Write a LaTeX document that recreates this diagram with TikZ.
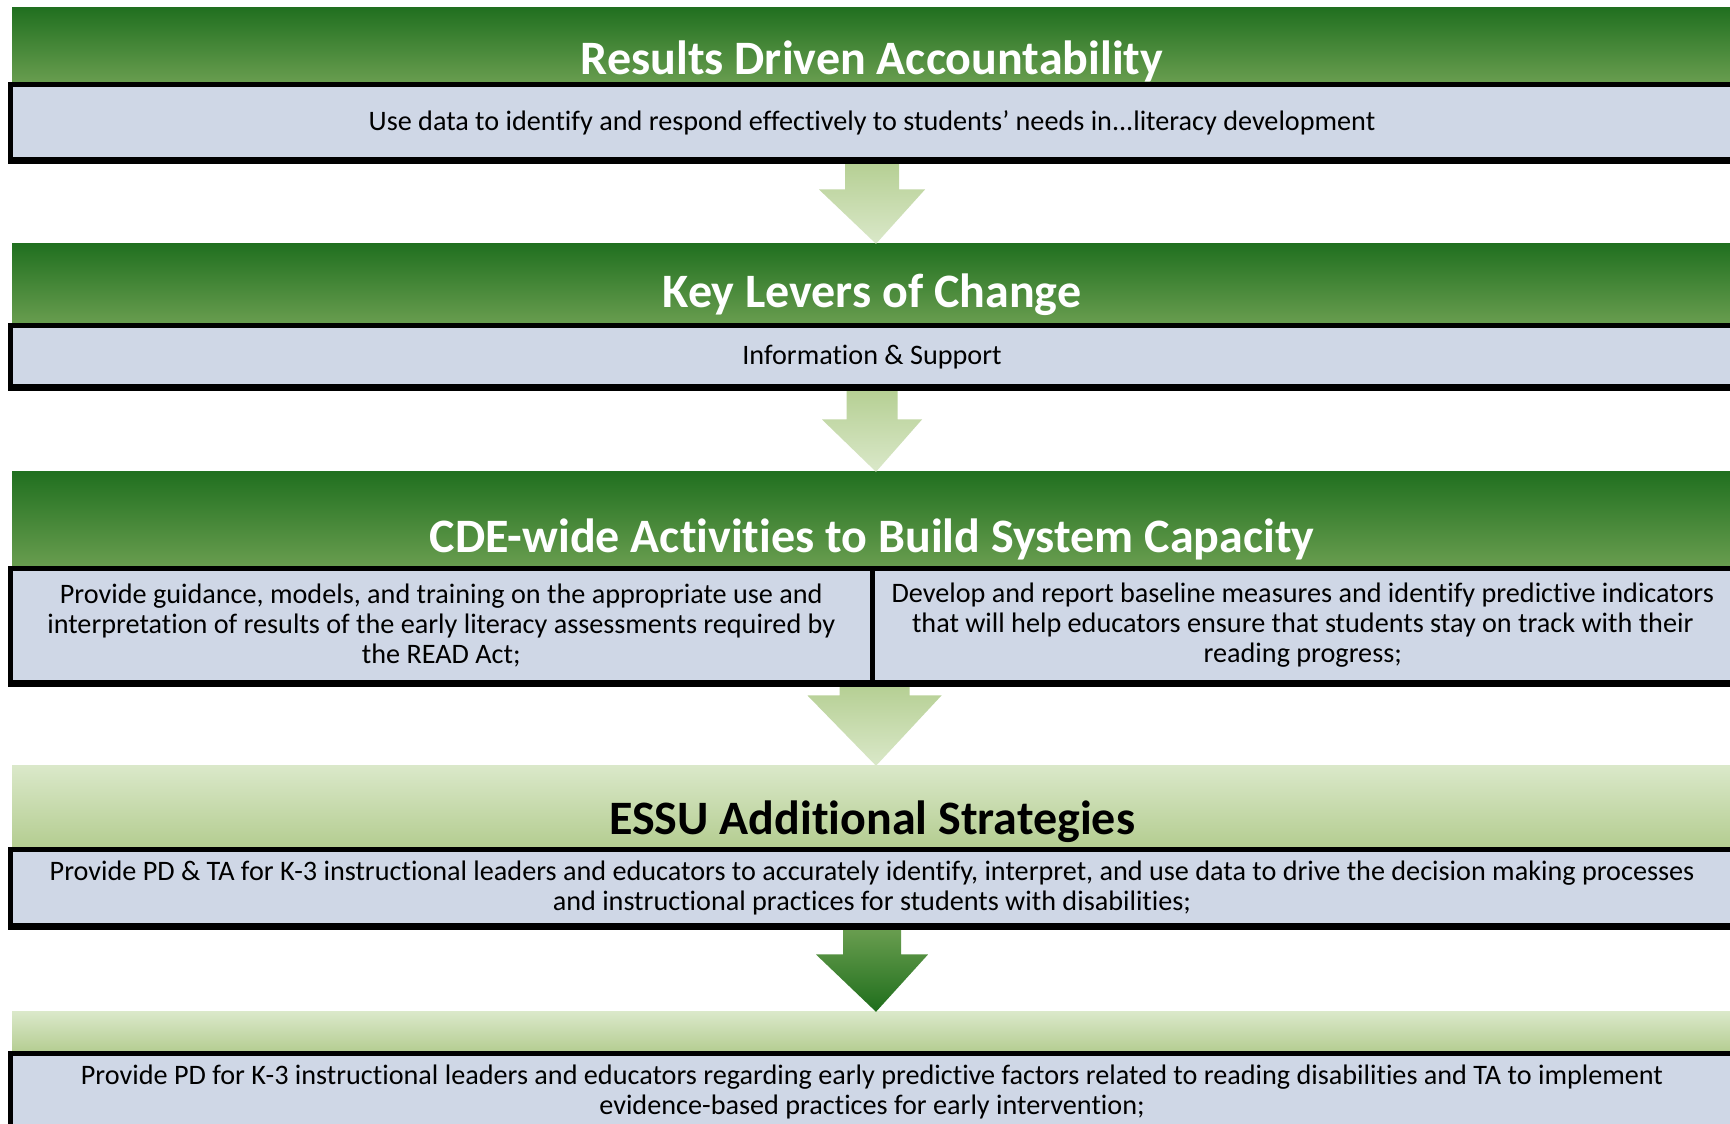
\documentclass[tikz,border=0pt]{standalone}
\usepackage{fontspec}
\setmainfont{Carlito}[Ligatures={NoCommon}]
\usetikzlibrary{calc}
\definecolor{dgTop}{HTML}{217020}
\definecolor{dgBot}{HTML}{6A9E50}
\definecolor{lgTop}{HTML}{DAE8C9}
\definecolor{lgBot}{HTML}{B3CC8F}
\definecolor{laTop}{HTML}{B5CF93}
\definecolor{laBot}{HTML}{DAE8C9}
\definecolor{daTop}{HTML}{6A9E50}
\definecolor{daBot}{HTML}{1F6E1C}
\definecolor{boxfill}{HTML}{CFD7E6}
\newcommand\blockarr[6]{%
  \shade[#6] let \p1=(#1), \p2=(#2) in
    (\x1-#3pt,\y1) -- (\x1+#3pt,\y1) -- (\x1+#3pt,\y1-#5pt) -- (\x1+#4pt,\y1-#5pt)
    -- (\x2,\y2) -- (\x1-#4pt,\y1-#5pt) -- (\x1-#3pt,\y1-#5pt) -- cycle;}
\begin{document}
\begin{tikzpicture}[x=1pt,y=1pt,
  darkbanner/.style={rectangle,inner sep=0pt,minimum width=1728pt,top color=dgTop,bottom color=dgBot},
  lightbanner/.style={rectangle,inner sep=0pt,minimum width=1728pt,top color=lgTop,bottom color=lgBot},
  title/.style={anchor=base,font=\fontsize{48}{56}\selectfont\bfseries,inner sep=0pt},
  infobox/.style={rectangle,draw=black,line width=5pt,fill=boxfill,inner sep=0pt,align=center,
    font=\fontsize{28.2}{30}\selectfont},
  oneline/.style={text height=23pt,text depth=5pt},
  lightarrow/.style={top color=laTop,bottom color=laBot},
  darkarrow/.style={top color=daTop,bottom color=daBot}]
\useasboundingbox (0,0) rectangle (1730,1124);
\fill[white] (0,0) rectangle (1730,1124);
% banners
\node[darkbanner,minimum height=76pt] (h1) at (876,1078) {};
\node[darkbanner,minimum height=81.5pt] (h2) at (876,839.25) {};
\node[darkbanner,minimum height=96.5pt] (h3) at (876,603.75) {};
\node[lightbanner,minimum height=83.5pt] (h4) at (876,316.25) {};
\node[lightbanner,minimum height=41.5pt] (h5) at (876,91.25) {};
% titles
\node[title,text=white] (t1) at (872,1049) {Results Driven Accountability};
\node[title,text=white] (t2) at (872,816) {Key Levers of Change};
\node[title,text=white] (t3) at (872,571) {CDE-wide Activities to Build System Capacity};
\node[title,text=black] (t4) at (872,289) {ESSU Additional Strategies};
% boxes
\node[infobox,oneline,minimum width=1723pt,minimum height=75pt] (b1) at (872,1002)
  {Use data to identify and respond effectively to students’ needs in...literacy development};
\node[infobox,oneline,minimum width=1723pt,minimum height=61pt] (b2) at (872,768)
  {Information \& Support};
\node[infobox,minimum width=861.5pt,minimum height=114pt] (b3l) at (441.25,498.5)
  {Provide guidance, models, and training on the appropriate use and\\interpretation of results of the early literacy assessments required by\\the READ Act;};
\node[infobox,minimum width=861.5pt,minimum height=114pt] (b3r) at (1302.75,498.5)
  {Develop and report baseline measures and identify predictive indicators\\that will help educators ensure that students stay on track with their\\reading progress;};
\node[infobox,minimum width=1723pt,minimum height=76pt] (b4) at (872,236.5)
  {Provide PD \& TA for K-3 instructional leaders and educators to accurately identify, interpret, and use data to drive the decision making processes\\and instructional practices for students with disabilities;};
\node[infobox,minimum width=1723pt,minimum height=76pt] (b5) at (872,32.5)
  {Provide PD for K-3 instructional leaders and educators regarding early predictive factors related to reading disabilities and TA to implement\\evidence-based practices for early intervention;};
% arrows
\blockarr{b1.south}{h2.north}{27}{53}{27.5}{lightarrow}
\blockarr{b2.south}{h3.north}{25.5}{50}{30.5}{lightarrow}
\blockarr{b3l.south east}{h4.north}{35}{67}{10.5}{lightarrow}
\blockarr{b4.south}{h5.north}{29}{56}{26.5}{darkarrow}
% redraw box borders over arrow tops
\draw[line width=5pt] (b1.south west) -- (b1.south east);
\draw[line width=5pt] (b2.south west) -- (b2.south east);
\draw[line width=5pt] (b3l.south west) -- (b3r.south east);
\draw[line width=5pt] (b4.south west) -- (b4.south east);
\end{tikzpicture}
\end{document}
